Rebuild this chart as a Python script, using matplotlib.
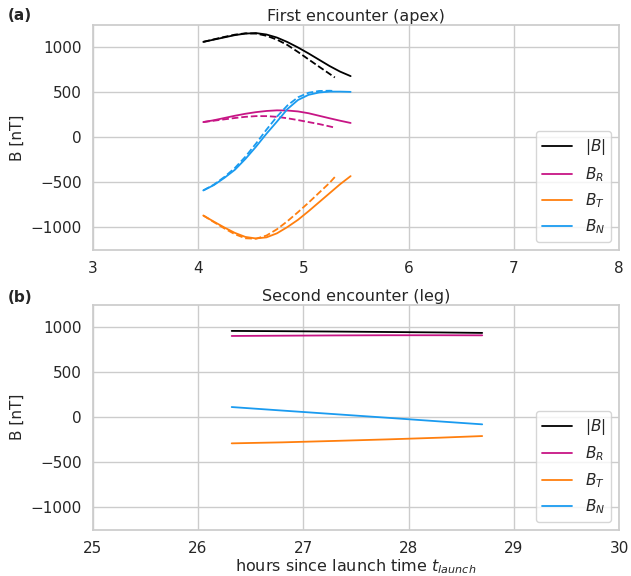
import numpy as np
import matplotlib
matplotlib.use('Agg')
import matplotlib.pyplot as plt
import seaborn as sns

# first encounter (apex), solid = model, dashed = alternative
t1 = [4.05, 4.15, 4.25, 4.35, 4.45, 4.55, 4.65, 4.75, 4.85, 4.95, 5.05, 5.15, 5.25, 5.35, 5.45]
babs1 = [1060, 1085, 1110, 1135, 1152, 1158, 1142, 1108, 1058, 998, 932, 862, 792, 730, 680]
br1 = [170, 190, 215, 240, 262, 280, 293, 300, 298, 288, 268, 240, 212, 185, 160]
bt1 = [-867, -935, -1000, -1060, -1105, -1122, -1110, -1065, -995, -915, -820, -720, -620, -520, -430]
bn1 = [-589, -530, -450, -360, -240, -105, 40, 175, 315, 415, 472, 498, 508, 508, 505]

t1d = [4.05, 4.15, 4.25, 4.35, 4.45, 4.55, 4.65, 4.75, 4.85, 4.95, 5.05, 5.15, 5.25, 5.30]
babs1d = [1060, 1088, 1115, 1140, 1155, 1152, 1128, 1085, 1025, 948, 866, 785, 705, 665]
br1d = [170, 185, 200, 215, 228, 236, 236, 228, 212, 192, 170, 148, 122, 108]
bt1d = [-867, -940, -1010, -1075, -1120, -1125, -1090, -1020, -930, -830, -725, -615, -505, -440]
bn1d = [-589, -525, -440, -340, -215, -70, 85, 230, 355, 445, 495, 515, 518, 515]

# second encounter (leg)
t2 = [26.32, 26.8, 27.3, 27.8, 28.3, 28.70]
babs2 = [959, 956, 952, 947, 942, 937]
br2 = [903, 906, 909, 911, 911, 910]
bt2 = [-289, -278, -262, -245, -226, -208]
bn2 = [114, 75, 35, -5, -46, -78]

labels = ['$|B|$', '$B_R$', '$B_T$', '$B_N$']
colors = ['black', '#C71585', '#FF7F0E', '#1A9BF0']

sns.set_theme(style='whitegrid')
plt.rcParams['font.family'] = ['DejaVu Sans']

fig = plt.figure(figsize=(6.31, 5.76), dpi=100)
ax1 = fig.add_axes([0.147, 0.566, 0.834, 0.391])
ax2 = fig.add_axes([0.147, 0.080, 0.834, 0.391])

for y, yd, lab, c in zip([babs1, br1, bt1, bn1], [babs1d, br1d, bt1d, bn1d], labels, colors):
    ax1.plot(t1, y, color=c, lw=1.3, label=lab)
    ax1.plot(t1d, yd, color=c, lw=1.3, ls='--')

for y, lab, c in zip([babs2, br2, bt2, bn2], labels, colors):
    ax2.plot(t2, y, color=c, lw=1.3, label=lab)

ax1.set_xlim(3, 8)
ax2.set_xlim(25, 30)
for ax, title in [(ax1, 'First encounter (apex)'), (ax2, 'Second encounter (leg)')]:
    ax.set_ylim(-1250, 1250)
    ax.set_yticks([-1000, -500, 0, 500, 1000])
    ax.set_ylabel('B [nT]', fontsize=11)
    ax.set_title(title, fontsize=11.5, pad=3)
    ax.tick_params(labelsize=11, pad=2)
    ax.legend(loc='lower right', fontsize=11)

ax2.set_xlabel('hours since launch time $t_{launch}$', fontsize=11.5, labelpad=1)

fig.text(0.012, 0.965, '(a)', fontsize=11, fontweight='bold')
fig.text(0.012, 0.475, '(b)', fontsize=11, fontweight='bold')

fig.savefig('out.png', dpi=100)
